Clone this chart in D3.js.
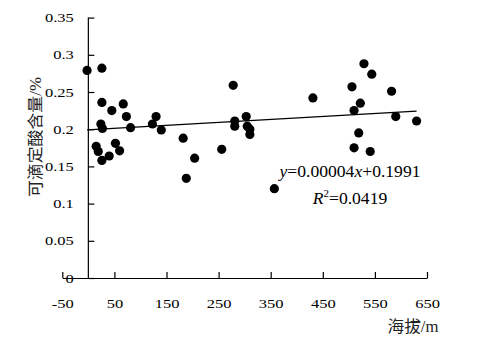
<!DOCTYPE html>
<html><head><meta charset="utf-8">
<script src="https://cdn.jsdelivr.net/npm/d3@7"></script>
<style>
html,body{margin:0;padding:0;background:#fff;}
svg{display:block;}
</style></head>
<body>
<svg id="chart" width="487" height="337"></svg>
<script>
// Data (altitude m, titratable acid %)
const altitude = [-2.5, 26, 26, 45, 67, 73, 24, 27, 81, 15, 19, 52, 60, 26, 40,
  130, 123, 140, 182, 204, 188, 256, 278, 281, 281, 303, 305, 310, 310, 357,
  431, 506, 529, 544, 582, 522, 510, 590, 630, 519, 510, 541];
const acidity = [0.279, 0.282, 0.236, 0.225, 0.234, 0.217, 0.207, 0.201, 0.202, 0.177, 0.170, 0.181, 0.171, 0.158, 0.164,
  0.217, 0.207, 0.199, 0.188, 0.161, 0.134, 0.173, 0.259, 0.211, 0.204, 0.217, 0.204, 0.200, 0.193, 0.120,
  0.242, 0.257, 0.288, 0.274, 0.251, 0.235, 0.225, 0.217, 0.211, 0.195, 0.175, 0.170];
const xTicks = [-50, 50, 150, 250, 350, 450, 550, 650];
const yTicks = [0, 0.05, 0.1, 0.15, 0.2, 0.25, 0.3, 0.35];
const trendSlope = 0.00004, trendIntercept = 0.1991;
const r2Value = "0.0419";
const xTitle = "海拔/m";
const yTitle = "可滴定酸含量/%";

const svg = d3.select("#chart");
const x = d3.scaleLinear().domain([-50, 650]).range([62.3, 427]);
const y = d3.scaleLinear().domain([0, 0.35]).range([278, 17.6]);
const serif = "'Liberation Serif','Times New Roman','Noto Sans CJK SC',serif";
const sx = 1.27;

// X axis at y=0
const gx = svg.append("g").attr("transform", `translate(0,${y(0)})`)
  .call(d3.axisBottom(x).tickValues(xTicks).tickSizeInner(-6).tickSizeOuter(0).tickPadding(21)
        .tickFormat(d => d));
gx.selectAll("path,line").attr("stroke", "#000").attr("stroke-width", 1.2);
gx.selectAll("text").attr("font-family", serif).attr("font-size", 13).attr("fill", "#000")
  .attr("transform", `scale(${sx},1)`);

// Y axis at x=0
const gy = svg.append("g").attr("transform", `translate(${x(0)},0)`)
  .call(d3.axisLeft(y).tickValues(yTicks).tickSizeInner(-6).tickSizeOuter(0)
        .tickFormat(d => d3.format("")(+d.toFixed(2))));
gy.selectAll("path,line").attr("stroke", "#000").attr("stroke-width", 1.2);
gy.selectAll("text").attr("font-family", serif).attr("font-size", 13).attr("fill", "#000")
  .attr("x", -14.5 / sx).attr("transform", `scale(${sx},1)`);
gy.select(".domain").remove();
svg.append("line").attr("x1", x(0)).attr("x2", x(0)).attr("y1", y(0)).attr("y2", y(0.35))
  .attr("stroke", "#000").attr("stroke-width", 1.2);

// Points
svg.append("g").selectAll("circle").data(altitude.map((a, i) => [a, acidity[i]]))
  .join("circle").attr("cx", d => x(d[0])).attr("cy", d => y(d[1])).attr("r", 4.6).attr("fill", "#000");

// Trend line
const xMin = d3.min(altitude), xMax = d3.max(altitude);
svg.append("line")
  .attr("x1", x(xMin)).attr("y1", y(trendSlope * xMin + trendIntercept))
  .attr("x2", x(xMax)).attr("y2", y(trendSlope * xMax + trendIntercept))
  .attr("stroke", "#000").attr("stroke-width", 1.3);

// Equation
const eq = svg.append("g").attr("transform", `translate(350,177) scale(1.1,1)`)
  .append("text").attr("text-anchor", "middle").attr("font-family", serif).attr("font-size", 16).attr("fill", "#000");
eq.append("tspan").attr("font-style", "italic").text("y");
eq.append("tspan").text("=0.00004");
eq.append("tspan").attr("font-style", "italic").text("x");
eq.append("tspan").text("+0.1991");

const r2 = svg.append("g").attr("transform", `translate(350,204) scale(1.1,1)`)
  .append("text").attr("text-anchor", "middle").attr("font-family", serif).attr("font-size", 16).attr("fill", "#000");
r2.append("tspan").attr("font-style", "italic").text("R");
r2.append("tspan").attr("font-size", 10).attr("dy", -7).text("2");
r2.append("tspan").attr("dy", 7).text("=" + r2Value);

// Axis titles
svg.append("text").attr("x", 413).attr("y", 326).attr("text-anchor", "middle")
  .attr("dominant-baseline", "central").attr("font-family", serif).attr("font-size", 16).attr("fill", "#222")
  .attr("textLength", 51).attr("lengthAdjust", "spacingAndGlyphs")
  .text(xTitle);
svg.append("text").attr("transform", "translate(35,137) rotate(-90)").attr("text-anchor", "middle")
  .attr("dominant-baseline", "central").attr("font-family", serif).attr("font-size", 16).attr("fill", "#222")
  .attr("textLength", 120).attr("lengthAdjust", "spacingAndGlyphs")
  .text(yTitle);
</script>
</body></html>
